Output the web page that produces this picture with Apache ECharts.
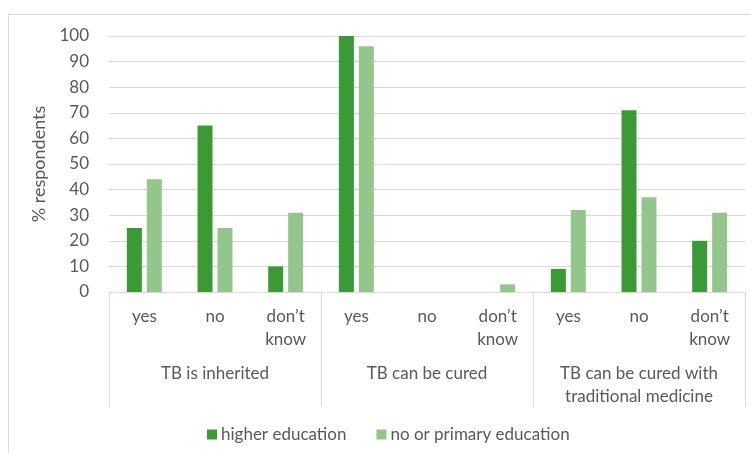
<!DOCTYPE html>
<html>
<head>
<meta charset="utf-8">
<script src="https://cdn.jsdelivr.net/npm/echarts@6/dist/echarts.min.js"></script>
<style>html,body{margin:0;padding:0;background:#fff;}#c{width:751px;height:453px;}</style>
</head>
<body>
<div id="c"></div>
<script>
var answers = ['yes', 'no', 'don’t\nknow', 'yes', 'no', 'don’t\nknow', 'yes', 'no', 'don’t\nknow'];
var groups = ['TB is inherited', 'TB can be cured', 'TB can be cured with\ntraditional medicine'];
var higherEducation = [25, 65, 10, 100, 0, 0, 9, 71, 20];
var primaryEducation = [44, 25, 31, 96, 0, 3, 32, 37, 31];
var yTicks = {min: 0, max: 100, interval: 10};

var txt = '#595959';
var font = 'Lato';
var fs = 17;
var chart = echarts.init(document.getElementById('c'), null, {renderer: 'canvas'});
chart.setOption({
  animation: false,
  textStyle: {fontFamily: font, color: txt},
  graphic: [{
    type: 'rect', silent: true,
    shape: {x: 8.5, y: 14.5, width: 800, height: 500},
    style: {fill: 'none', stroke: '#d9d9d9', lineWidth: 1}
  }],
  grid: {left: 109, right: 6, top: 36, bottom: 161, containLabel: false},
  legend: {
    data: ['higher education', 'no or primary education'],
    top: 421, left: 202,
    itemWidth: 10, itemHeight: 10, itemGap: 30,
    icon: 'rect',
    textStyle: {fontFamily: font, fontSize: fs, color: txt, padding: [0, 0, 0, -1]}
  },
  xAxis: [{
    type: 'category', data: answers, position: 'bottom',
    axisLine: {show: true, lineStyle: {color: '#d9d9d9', width: 1}},
    axisTick: {show: false},
    axisLabel: {interval: 0, color: txt, fontFamily: font, fontSize: fs, lineHeight: 23, margin: 13, align: 'center'}
  }, {
    type: 'category', data: groups, position: 'bottom',
    axisLine: {show: false},
    axisTick: {show: true, length: 115, interval: 0, lineStyle: {color: '#d9d9d9', width: 1}},
    axisLabel: {interval: 0, color: txt, fontFamily: font, fontSize: fs, lineHeight: 23, margin: 70, align: 'center'}
  }],
  yAxis: {
    type: 'value', min: yTicks.min, max: yTicks.max, interval: yTicks.interval,
    name: '% respondents', nameLocation: 'middle', nameGap: 57, nameRotate: 90,
    nameTextStyle: {fontFamily: font, fontSize: 18, color: txt},
    axisLine: {show: false}, axisTick: {show: false},
    axisLabel: {color: txt, fontFamily: font, fontSize: fs, margin: 20},
    splitLine: {lineStyle: {color: '#d9d9d9', width: 1}}
  },
  series: [{
    name: 'higher education', type: 'bar', xAxisIndex: 0, data: higherEducation,
    barWidth: 15, barGap: '33%',
    itemStyle: {color: '#3a9a33'}
  }, {
    name: 'no or primary education', type: 'bar', xAxisIndex: 0, data: primaryEducation,
    barWidth: 15, barGap: '33%',
    itemStyle: {color: '#92c68b'}
  }]
});
</script>
</body>
</html>
